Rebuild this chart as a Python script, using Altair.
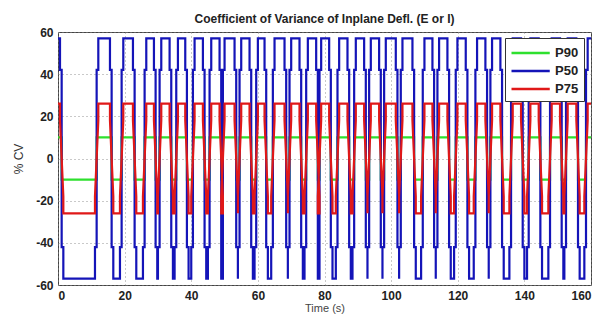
import altair as alt
import pandas as pd

# High-plateau intervals (s) of the pulse train (start, end of top plateau)
HIGH_START = [0.0, 12.1, 19.6, 26.5, 31.0, 36.0, 41.0, 46.0, 50.0, 55.0, 60.0, 65.0, 70.0, 75.0,
              79.0, 84.4, 89.4, 93.9, 98.4, 103.4, 110.0, 114.4, 119.9, 125.8, 130.3, 136.5,
              141.8, 148.2, 153.0, 159.0]
HIGH_END = [0.6, 15.6, 22.5, 28.8, 33.5, 38.2, 43.5, 48.5, 53.0, 57.5, 62.0, 68.0, 72.5, 77.5,
            81.4, 86.9, 91.9, 96.4, 101.4, 106.4, 112.4, 116.9, 122.4, 128.3, 132.8, 139.0,
            144.3, 150.7, 155.6, 160.0]

SERIES = ["P90", "P50", "P75"]
PLATEAU = [10, 57, 26]      # % CV plateau level of each series
SHOULDER = [10, 42, 18]     # intermediate step level on the edges
COLORS = ["#2ee02e", "#1414b8", "#e01818"]
EDGE = 1.0                  # duration of an edge (s)

rows = []
for name, a, b in zip(SERIES, PLATEAU, SHOULDER):
    pts = []
    for i, (s, e) in enumerate(zip(HIGH_START, HIGH_END)):
        if i == 0:
            pts.append((s, a))
        else:
            r = s - EDGE
            if name == "P50":
                pts += [(r, -a), (r, -b), (r + EDGE / 2, -b), (r + EDGE / 2, b), (s, b), (s, a)]
            elif name == "P75":
                pts += [(r, -a), (r, -b), (s, b), (s, a)]
            else:
                pts += [(r + EDGE / 2, -a), (r + EDGE / 2, a)]
        pts.append((e, a))
        if i < len(HIGH_START) - 1:
            f = e
            if name == "P50":
                pts += [(f, b), (f + EDGE / 2, b), (f + EDGE / 2, -b), (f + EDGE, -b), (f + EDGE, -a)]
            elif name == "P75":
                pts += [(f, b), (f + EDGE, -b), (f + EDGE, -a)]
            else:
                pts += [(f + EDGE / 2, a), (f + EDGE / 2, -a)]
    for k, (t, v) in enumerate(pts):
        rows.append({"series": name, "t": t, "v": v, "k": k})

df = pd.DataFrame(rows)

FONT = "Liberation Sans Narrow, Liberation Sans, Arial"

chart = alt.Chart(df).mark_line(strokeWidth=2.2, interpolate="linear").encode(
    x=alt.X("t:Q", scale=alt.Scale(domain=[0, 160], nice=False),
            axis=alt.Axis(values=[0, 20, 40, 60, 80, 100, 120, 140, 160], title="Time (s)",
                          grid=True, gridDash=[1, 3], gridColor="#888", gridOpacity=0.9,
                          tickSize=0, labelPadding=5, labelFontWeight="bold", labelFontSize=12,
                          labelFont=FONT, titleFont="Liberation Sans", titleFontSize=11,
                          titleFontWeight="normal", titleColor="#444", titlePadding=1,
                          domain=False, labelColor="#222")),
    y=alt.Y("v:Q", scale=alt.Scale(domain=[-60, 60], nice=False),
            axis=alt.Axis(values=[-60, -40, -20, 0, 20, 40, 60], title="% CV",
                          labelExpr="datum.value < 0 ? '-' + abs(datum.value) : '' + datum.value",
                          grid=True, gridDash=[1, 3], gridColor="#888", gridOpacity=0.9,
                          tickSize=0, labelPadding=5, labelFontWeight="bold", labelFontSize=12,
                          labelFont=FONT, titleFont="Liberation Sans", titleFontSize=12,
                          titleFontWeight="normal", titleColor="#333", titlePadding=10,
                          domain=False, labelColor="#222")),
    color=alt.Color("series:N", scale=alt.Scale(domain=SERIES, range=COLORS),
                    legend=alt.Legend(title=None, orient="none", legendX=447, legendY=6,
                                      symbolType="M-1,0L3.5,0", symbolSize=289, symbolStrokeWidth=2.5,
                                      labelFontWeight="bold", labelFontSize=13, labelFont=FONT,
                                      fillColor="white", strokeColor="#333", padding=5,
                                      rowPadding=1, labelOffset=25, labelColor="#222")),
    order="k:Q",
).properties(
    width=533, height=253,
    title=alt.Title("Coefficient of Variance of Inplane Defl. (E or I)", fontSize=12,
                    fontWeight="bold", font=FONT, offset=0, color="#222"),
    autosize=alt.AutoSizeParams(type="none"),
    padding={"left": 50, "top": 24, "right": 9, "bottom": 30},
).configure_view(stroke="#444", strokeWidth=1)

chart.save("out.html", embed_options={"renderer": "svg", "actions": False})
